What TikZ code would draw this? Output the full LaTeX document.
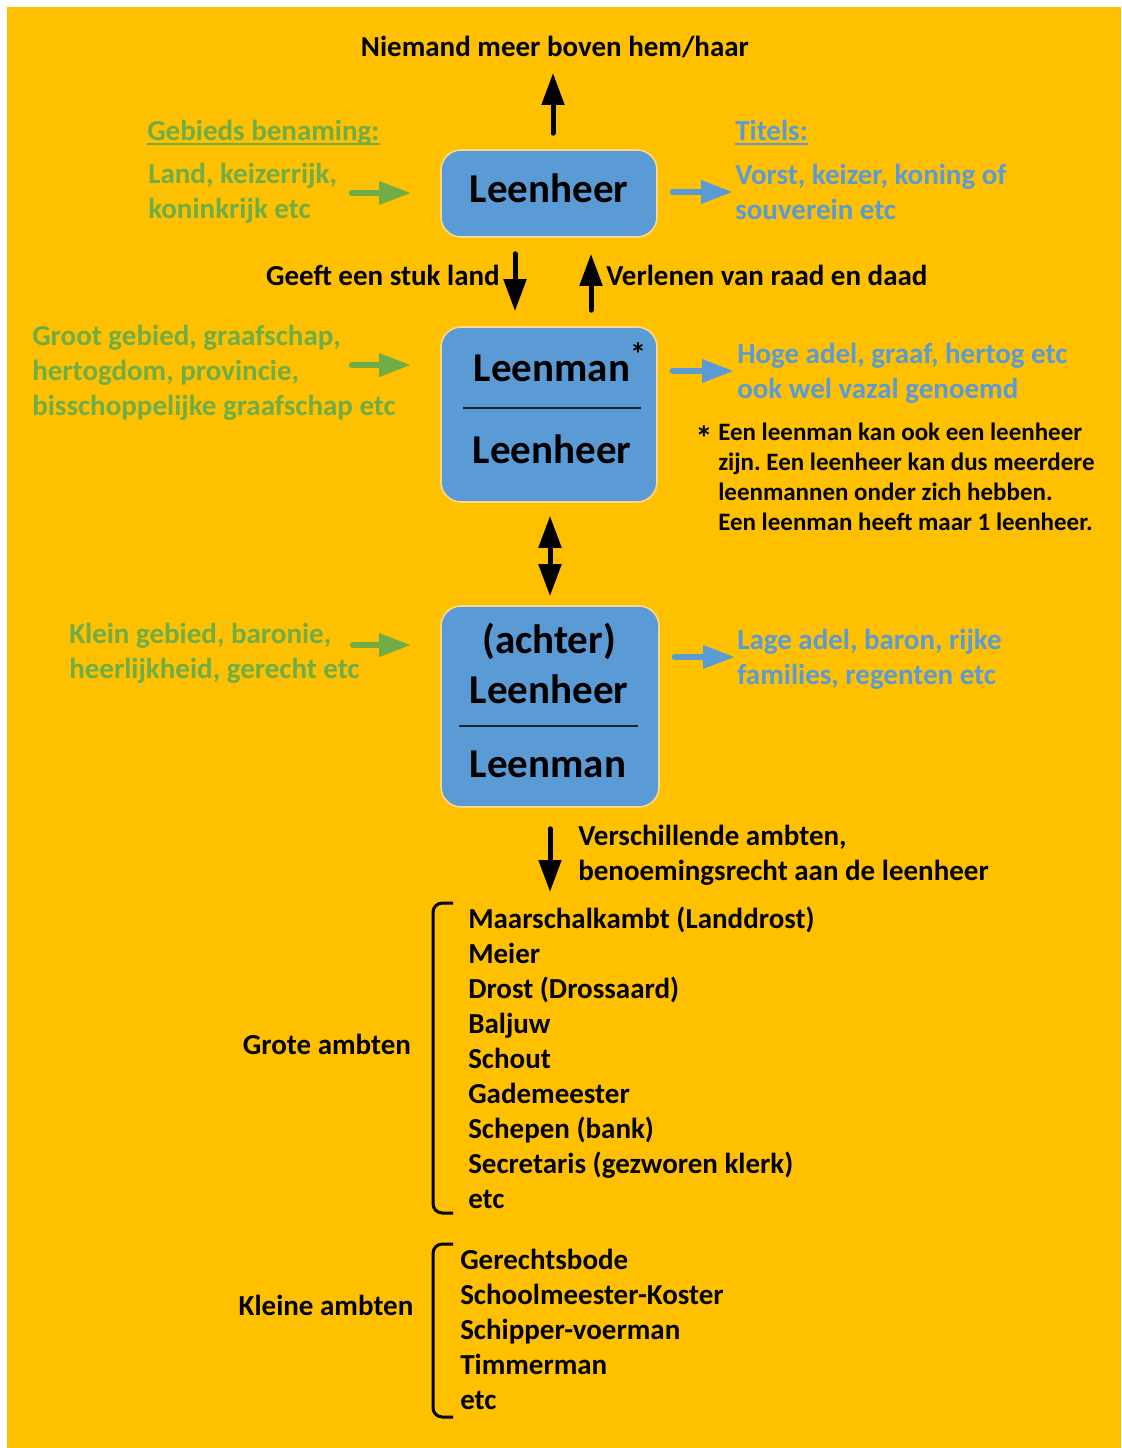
\documentclass[tikz,border=0pt]{standalone}
\usepackage{fontspec}
\setmainfont{Carlito}
\usetikzlibrary{arrows.meta}
\definecolor{oranjegeel}{HTML}{FFC000}
\definecolor{vakblauw}{HTML}{5B9BD5}
\definecolor{gebiedgroen}{HTML}{70AD47}
\definecolor{vakrand}{HTML}{F9D98C}
\definecolor{deellijn}{HTML}{1A2233}
\tikzset{punt/.tip={Triangle[length=24pt,width=16.5pt]}}
\frenchspacing
\begin{document}
\begin{tikzpicture}[x=0.75pt,y=-0.75pt,inner sep=0pt,
	vak/.style={rectangle,rounded corners=15pt,fill=vakblauw,draw=vakrand,line width=1.2pt},
	vaktekst/.style={font=\fontsize{30.75}{36}\selectfont\bfseries,anchor=base},
	tekst/.style={font=\fontsize{21.75}{26.25}\selectfont\bfseries,align=left,anchor=base west},
	groen/.style={tekst,text=gebiedgroen},
	blauw/.style={tekst,text=vakblauw},
	noot/.style={font=\fontsize{18.75}{22.5}\selectfont\bfseries,align=left,anchor=base west},
	pijl/.style={line width=3.75pt,line cap=round,-punt},
	dubbelpijl/.style={line width=3.75pt,punt-punt},
	groenpijl/.style={pijl,draw=gebiedgroen,line width=4.75pt},
	blauwpijl/.style={pijl,draw=vakblauw,line width=4.75pt},
	haak/.style={line width=2.25pt,rounded corners=7pt}]
	\useasboundingbox (0,0) rectangle (1121,1448);
	\fill [white] (0,0) rectangle (1121,1448);
	\fill [oranjegeel] (7,7) rectangle (1121,1448);
	% de drie vakken
	\node [vak,minimum width=162pt,minimum height=65.25pt] (heer) at (549,193.5) {};
	\node [vaktekst] (heertekst) at (549,203) {Leenheer};
	\node [vak,minimum width=162pt,minimum height=131.25pt] (man) at (549,414.5) {};
	\node [vaktekst] (mantekst) at (552,381) {Leenman\rlap{\raisebox{12pt}{\fontsize{24}{24}\selectfont *}}};
	\node [vaktekst] (manheer) at (552,463) {Leenheer};
	\draw [deellijn,line width=1.5pt] (463,408) -- (641,408);
	\node [vak,minimum width=163.5pt,minimum height=150.75pt] (achter) at (550,706.5) {};
	\node [vaktekst] (achtertekst) at (549,653) {(achter)};
	\node [vaktekst] (achterheer) at (549,703) {Leenheer};
	\draw [deellijn,line width=1.5pt] (459,726) -- (638,726);
	\node [vaktekst] (achterman) at (548,777) {Leenman};
	% teksten (base = laatste regel)
	\node [tekst,anchor=base] (niemand) at (555,57) {Niemand meer boven hem/haar};
	\node [groen] (gebied) at (147,141) {Gebieds benaming:};
	\draw [gebiedgroen,line width=1.5pt] ([yshift=-2.5pt]gebied.base west) -- ([yshift=-2.5pt]gebied.base east);
	\node [groen] (land) at (148,219) {Land, keizerrijk,\\koninkrijk etc};
	\node [blauw] (titels) at (735,141) {Titels:};
	\draw [vakblauw,line width=1.5pt] ([yshift=-2.5pt]titels.base west) -- ([yshift=-2.5pt]titels.base east);
	\node [blauw] (vorst) at (735,220) {Vorst, keizer, koning of\\souverein etc};
	\node [tekst,anchor=base east] (geeft) at (500,286) {Geeft een stuk land};
	\node [tekst] (verlenen) at (606,286) {Verlenen van raad en daad};
	\node [groen] (groot) at (32,415) {Groot gebied, graafschap,\\hertogdom, provincie,\\bisschoppelijke graafschap etc};
	\node [blauw] (hoog) at (737,398) {Hoge adel, graaf, hertog etc\\ook wel vazal genoemd};
	\node [font=\fontsize{26}{26}\selectfont\bfseries,anchor=base west] (ster) at (695,450) {*};
	\node [noot] (voetnoot) at (718,530) {Een leenman kan ook een leenheer\\zijn. Een leenheer kan dus meerdere\\leenmannen onder zich hebben.\\Een leenman heeft maar 1 leenheer.};
	\node [groen] (klein) at (69,678) {Klein gebied, baronie,\\heerlijkheid, gerecht etc};
	\node [blauw] (laag) at (737,684) {Lage adel, baron, rijke\\families, regenten etc};
	\node [tekst] (ambten) at (578,880) {Verschillende ambten,\\benoemingsrecht aan de leenheer};
	% ambten
	\node [tekst] (grotelijst) at (468,1208) {Maarschalkambt (Landdrost)\\Meier\\Drost (Drossaard)\\Baljuw\\Schout\\Gademeester\\Schepen (bank)\\Secretaris (gezworen klerk)\\etc};
	\node [tekst,anchor=base] (grote) at (327,1054) {Grote ambten};
	\draw [haak] (453,903) -- (433,903) -- (433,1213) -- (453,1213);
	\node [tekst] (kleinelijst) at (460,1409) {Gerechtsbode\\Schoolmeester-Koster\\Schipper-voerman\\Timmerman\\etc};
	\node [tekst,anchor=base] (kleine) at (326,1315) {Kleine ambten};
	\draw [haak] (453,1244) -- (433,1244) -- (433,1417) -- (453,1417);
	% pijlen
	\coordinate (boven) at (553,73);
	\draw [pijl,shorten <=12pt] (heer.north -| boven) -- (boven);
	\coordinate (geeftx) at (515,0);
	\draw [pijl,shorten <=12pt,shorten >=11.25pt] (heer.south -| geeftx) -- (man.north -| geeftx);
	\coordinate (verlx) at (591,0);
	\draw [pijl,shorten <=12pt,shorten >=12pt] (man.north -| verlx) -- (heer.south -| verlx);
	\coordinate (midx) at (550,0);
	\draw [dubbelpijl,shorten <=9.75pt,shorten >=6.75pt] (man.south -| midx) -- (achter.north -| midx);
	\coordinate (onder) at (550,892);
	\draw [pijl,shorten <=15.75pt] (achter.south -| onder) -- (onder);
	\coordinate (g1) at (352,193);
	\coordinate (g2) at (352,365);
	\coordinate (g3) at (353,645);
	\draw [groenpijl,shorten >=21.75pt] (g1) -- (g1 -| heer.west);
	\draw [groenpijl,shorten >=21.75pt] (g2) -- (g2 -| man.west);
	\draw [groenpijl,shorten >=21.75pt] (g3) -- (g3 -| achter.west);
	\coordinate (b1) at (733,192);
	\coordinate (b2) at (734,371);
	\coordinate (b3) at (735,657);
	\draw [blauwpijl,shorten <=11.25pt] (b1 -| heer.east) -- (b1);
	\draw [blauwpijl,shorten <=11.25pt] (b2 -| man.east) -- (b2);
	\draw [blauwpijl,shorten <=11.25pt] (b3 -| achter.east) -- (b3);
\end{tikzpicture}
\end{document}
